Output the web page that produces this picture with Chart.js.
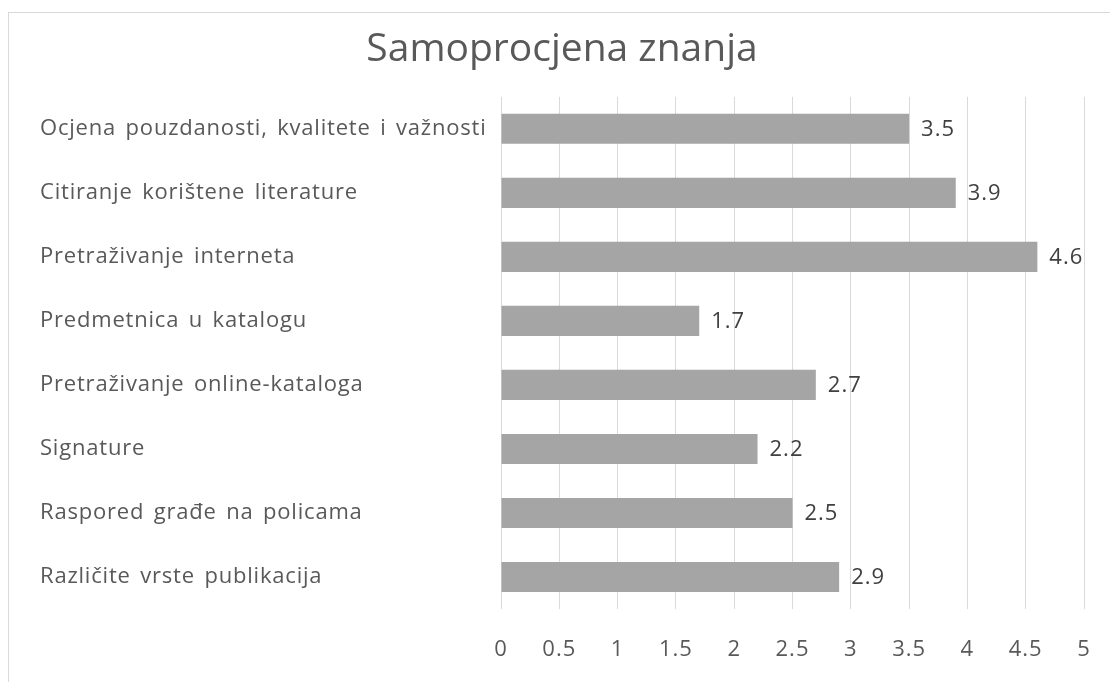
<!DOCTYPE html>
<html>
<head>
<meta charset="utf-8">
<script src="https://cdn.jsdelivr.net/npm/chart.js@4/dist/chart.umd.min.js"></script>
<style>
  html, body { margin: 0; padding: 0; background: #fff; overflow: hidden; width: 1110px; height: 682px; }
  #box { position: absolute; left: 8px; top: 12px; width: 1124px; height: 680px; border: 1px solid #d9d9d9; background: #fff; }
  canvas { display: block; }
</style>
</head>
<body>
<div id="box"><canvas id="c" width="1124" height="680"></canvas></div>
<script>
const titleText = "Samoprocjena znanja";
const categories = [
  "Ocjena pouzdanosti, kvalitete i važnosti",
  "Citiranje korištene literature",
  "Pretraživanje interneta",
  "Predmetnica u katalogu",
  "Pretraživanje online-kataloga",
  "Signature",
  "Raspored građe na policama",
  "Različite vrste publikacija"
];
const values = [3.5, 3.9, 4.6, 1.7, 2.7, 2.2, 2.5, 2.9];
const xMin = 0, xMax = 5, xStep = 0.5;

const FONT = "'Open Sans', 'Noto Sans', sans-serif";

function patchSpacing(scale, letter, word) {
  if (scale._spacingPatched) return;
  const orig = scale.drawLabels;
  scale.drawLabels = function(area) {
    const ctx = this.ctx;
    ctx.save();
    ctx.letterSpacing = letter;
    ctx.wordSpacing = word;
    orig.call(this, area);
    ctx.restore();
  };
  scale._spacingPatched = true;
}

const valueLabels = {
  id: 'valueLabels',
  afterDatasetsDraw(chart) {
    const ctx = chart.ctx;
    const meta = chart.getDatasetMeta(0);
    ctx.save();
    ctx.font = "22px " + FONT;
    ctx.letterSpacing = "1px";
    ctx.fillStyle = "#404040";
    ctx.textAlign = "left";
    ctx.textBaseline = "middle";
    meta.data.forEach((bar, i) => {
      ctx.fillText(String(values[i]), bar.x + 12, bar.y + 1);
    });
    ctx.restore();
  }
};

new Chart(document.getElementById('c'), {
  type: 'bar',
  data: {
    labels: categories,
    datasets: [{
      data: values,
      backgroundColor: '#A5A5A5',
      borderWidth: 0,
      categoryPercentage: 1,
      barPercentage: 0.47
    }]
  },
  options: {
    indexAxis: 'y',
    responsive: false,
    animation: false,
    devicePixelRatio: 1,
    layout: { padding: { left: 31, right: 49, top: 0, bottom: 24 } },
    plugins: {
      legend: { display: false },
      tooltip: { enabled: false },
      title: {
        display: true,
        text: titleText,
        color: '#595959',
        font: { family: FONT, size: 39, weight: 'normal' },
        padding: { top: 13, bottom: 24 }
      }
    },
    scales: {
      x: {
        min: xMin, max: xMax,
        ticks: {
          stepSize: xStep,
          color: '#595959',
          font: { family: FONT, size: 22 },
          padding: 28,
          callback: v => String(v)
        },
        grid: { color: '#d9d9d9', lineWidth: 1, drawTicks: false },
        border: { display: false },
        afterFit(scale) { scale.height = 60; patchSpacing(scale, '1px', '0px'); }
      },
      y: {
        ticks: {
          color: '#595959',
          font: { family: FONT, size: 22 },
          crossAlign: 'far'
        },
        grid: { display: false, drawTicks: false },
        border: { display: false },
        afterFit(scale) { scale.width = 461; patchSpacing(scale, '0.8px', '3px'); }
      }
    }
  },
  plugins: [valueLabels]
});
</script>
</body>
</html>
